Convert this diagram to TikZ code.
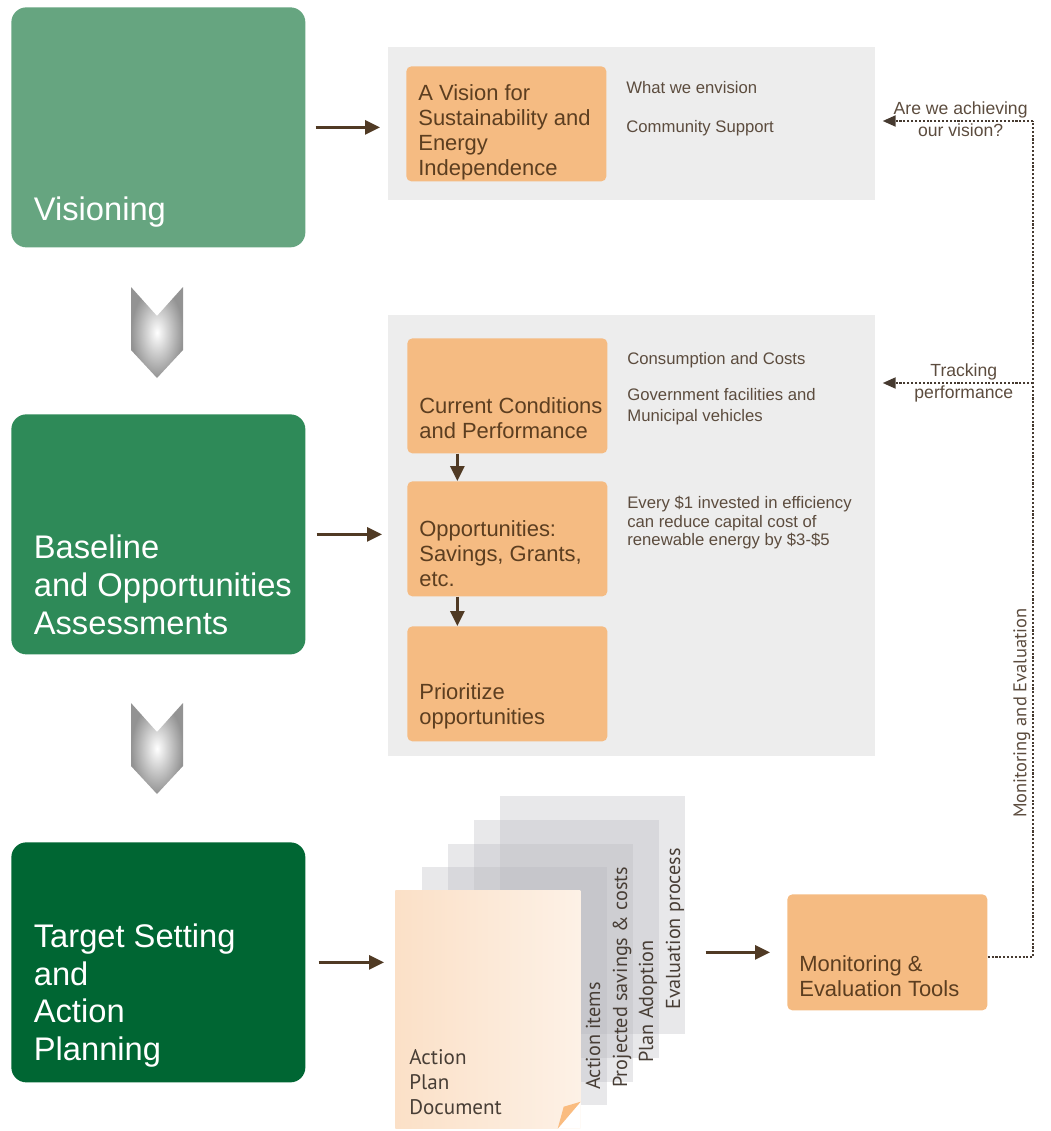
\documentclass[tikz,border=0pt]{standalone}
\usepackage{fontspec}
\setmainfont{Liberation Sans}
\newfontfamily\docfont{PT Sans}
\usetikzlibrary{positioning, arrows.meta}

\definecolor{visgreen}{RGB}{102,165,128}
\definecolor{basegreen}{RGB}{46,138,88}
\definecolor{targetgreen}{RGB}{0,102,51}
\definecolor{panelgray}{RGB}{237,237,237}
\definecolor{boxorange}{RGB}{245,187,130}
\definecolor{boxbrown}{RGB}{92,62,32}
\definecolor{notebrown}{RGB}{92,76,62}
\definecolor{dotbrown}{RGB}{70,58,48}
\definecolor{arrowbrown}{RGB}{80,58,36}
\definecolor{docgray}{RGB}{180,180,186}
\definecolor{doctext}{RGB}{72,62,54}
\definecolor{peachleft}{RGB}{251,224,199}
\definecolor{peachright}{RGB}{253,241,230}
\definecolor{foldorange}{RGB}{250,188,128}

\tikzset{
>={Triangle[length=3mm,width=2.8mm]}, % solid arrow heads
phase/.style={rounded corners=3mm, minimum width=58.8mm, minimum height=48mm, anchor=north west, inner sep=0pt},
phasetext/.style={anchor=south west, align=left, text=white, inner xsep=4.5mm, inner ysep=4mm, font=\fontsize{18.6}{21.4}\selectfont},
panel/.style={fill=panelgray, minimum width=97.4mm, anchor=north west, inner sep=0pt},
obox/.style={fill=boxorange, rounded corners=1mm, minimum width=40mm, minimum height=23mm, anchor=north west, inner sep=0pt},
otext/.style={anchor=south west, align=left, text=boxbrown, inner xsep=2.4mm, inner ysep=2.5mm, font=\fontsize{12.5}{14.2}\selectfont},
note/.style={anchor=north west, align=left, inner sep=0pt, text=notebrown, font=\fontsize{9.5}{10.5}\selectfont},
flow/.style={->, draw=arrowbrown, line width=0.6mm},
feedback/.style={draw=dotbrown, line width=1.2pt, densely dotted},
fbtip/.style={-{Triangle[length=2.6mm,width=2.2mm]}, shorten >=1.4mm},
fbnote/.style={text=notebrown, inner sep=1pt, font=\fontsize{10}{12}\selectfont},
page/.style={minimum width=37mm, minimum height=47.6mm, anchor=north west, inner sep=0pt},
docpage/.style={fill=docgray, fill opacity=0.3},
vtext/.style={rotate=90, anchor=base west, inner sep=0pt, text=doctext, font=\docfont\fontsize{11.5}{13}\selectfont},
chevron/.pic={\shade[inner color=white, outer color=gray!85] (0,0) -- (26,29) -- (52,0) -- (52,63) -- (26,91) -- (0,63) -- cycle;},
}

\begin{document}
\begin{tikzpicture}[x=0.2mm, y=-0.2mm]
\useasboundingbox (0,0) rectangle (1050,1131);

% the three phases
\node[phase, fill=visgreen, label={[phasetext]south west:Visioning}] (vis) at (11,7) {};
\node[phase, fill=basegreen, label={[phasetext]south west:Baseline\\and Opportunities\\Assessments}] (base) at (11,414) {};
\node[phase, fill=targetgreen, label={[phasetext, inner ysep=3mm]south west:Target Setting\\and\\Action\\Planning}] (target) at (11,842) {};
\pic at (131,287) {chevron};
\pic at (131,703) {chevron};

% vision
\node[panel, minimum height=30.6mm] (panel1) at (388,47) {};
\node[obox, label={[otext, inner ysep=0.3mm]south west:A Vision for\\Sustainability and\\Energy\\Independence}] (vision) at (406,66) {};
\node[note, font=\fontsize{9.5}{22}\selectfont] (envision) at (626,81) {What we envision\\Community Support};

% baseline and opportunities
\node[panel, minimum height=88.2mm] (panel2) at (388,315) {};
\node[obox, label={[otext, inner ysep=3mm]south west:Current Conditions\\and Performance}] (cur) at (407,338) {};
\node[obox, label={[otext, inner ysep=2mm]south west:{Opportunities:\\Savings, Grants,\\etc.}}] (opp) at (407,481) {};
\node[obox, label={[otext]south west:Prioritize\\opportunities}] (prio) at (407,626) {};
\node[note] (costs) at (627,352) {Consumption and Costs};
\node[note, font=\fontsize{9.5}{12}\selectfont] (facilities) at (627,388) {Government facilities and\\Municipal vehicles};
\node[note] (invest) at (627,496) {Every \$1 invested in efficiency\\can reduce capital cost of\\renewable energy by \$3-\$5};

% action plan document
\foreach \i/\x/\y in {4/500/796, 3/474/820, 2/448/844, 1/422/867}
  \node[page, docpage] (page\i) at (\x,\y) {};
\node[page, left color=peachleft, right color=peachright, label={[otext, text=doctext, font=\docfont\fontsize{12}{14.2}\selectfont, inner xsep=2.8mm, inner ysep=2.8mm]south west:Action\\Plan\\Document}] (front) at (395,890) {};
\fill[white] (front.south east) -- ++(0,-27) -- ++(-23,27) -- cycle;
\fill[foldorange] ([shift={(0,-27)}]front.south east) -- ([shift={(-23,0)}]front.south east) -- ([shift={(-17,-22)}]front.south east) -- cycle;
\node[vtext] (items) at (600,1090) {Action items};
\node[vtext] (savings) at (627,1088) {Projected savings \& costs};
\node[vtext] (adoption) at (653,1063) {Plan Adoption};
\node[vtext] (evalproc) at (680,1010) {Evaluation process};

\node[obox, minimum height=23.2mm, label={[otext, inner ysep=2.8mm]south west:Monitoring \&\\Evaluation Tools}] (mon) at (787,894) {};

% arrows
\draw[flow, shorten <=2mm, shorten >=1.6mm] (vis.east) -- (vis.east -| panel1.west);
\draw[flow, shorten <=2.2mm, shorten >=1.2mm] (base.east) -- (base.east -| panel2.west);
\draw[flow, shorten <=2.6mm, shorten >=2.2mm] (target.east) -- (target.east -| front.west);
\draw[flow, shorten <=4mm, shorten >=3.4mm] (mon.west -| page4.east) -- (mon.west);
\draw[flow] ([xshift=-10mm]cur.south) -- ([xshift=-10mm]opp.north);
\draw[flow] ([xshift=-10mm]opp.south) -- ([xshift=-10mm]prio.north);

% monitoring loop back
\coordinate (fbtop) at (1033,121);
\coordinate (fbmid) at (1033,383);
\draw[feedback] ([yshift=-1mm]mon.east) -| node[pos=0.646, sloped, above, fbnote, font=\docfont\fontsize{10.5}{12}\selectfont] (mande) {Monitoring and Evaluation} (fbtop);
\draw[feedback, fbtip] (fbtop) -- node[pos=0.46, above, fbnote] (achieve) {Are we achieving} node[pos=0.46, below, fbnote] (ourvision) {our vision?} (fbtop -| panel1.east);
\draw[feedback, fbtip] (fbmid) -- node[pos=0.44, above, fbnote] (tracking) {Tracking} node[pos=0.44, below, fbnote] (performance) {performance} (fbmid -| panel2.east);
\end{tikzpicture}
\end{document}
